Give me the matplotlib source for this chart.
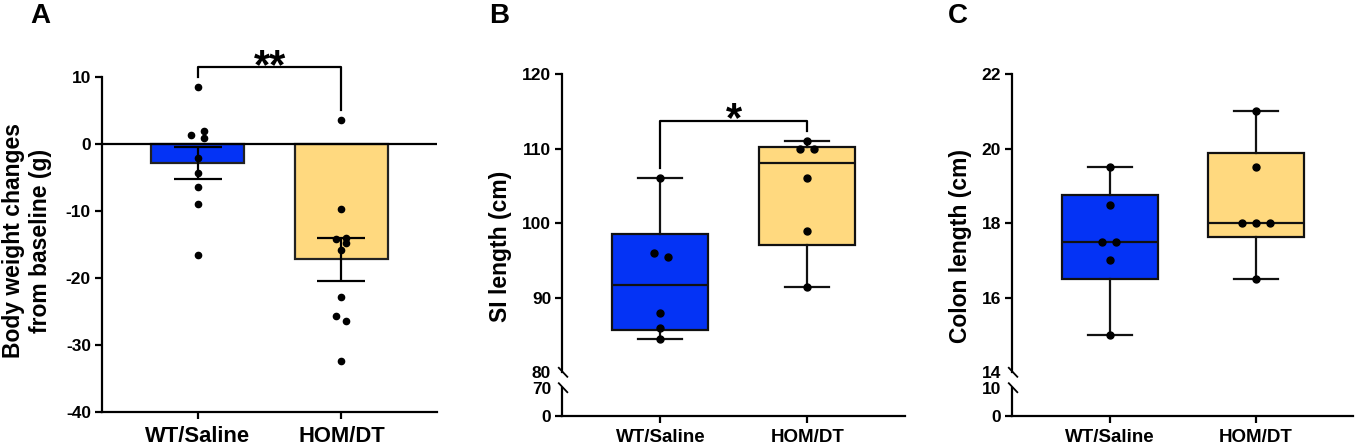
import numpy as np
import matplotlib
matplotlib.use("Agg")
import matplotlib.pyplot as plt
from matplotlib.lines import Line2D

plt.rcParams['font.family'] = ['Liberation Sans', 'DejaVu Sans']
plt.rcParams['font.weight'] = 'bold'
plt.rcParams['axes.unicode_minus'] = False

# ---------------- data ----------------
groups = ["WT/Saline", "HOM/DT"]
colors = ["#0433F5", "#FFD97F"]

# Panel A: body weight change (g)
bw_wt = [8.5, 2.0, 1.3, 0.9, -2.1, -4.4, -6.5, -8.9, -16.6]
bw_wt_off = [0, 0.046, -0.049, 0.046, 0, 0, 0, 0, 0]
bw_hom = [3.6, -9.7, -14.0, -14.2, -14.8, -15.9, -22.9, -25.7, -26.4, -32.5]
bw_hom_off = [0, 0, 0.035, -0.035, 0.035, 0, 0, -0.035, 0.035, 0]
bw_ticks = [-40, -30, -20, -10, 0, 10]

# Panel B: SI length (cm)
si_wt = [106.0, 96.0, 95.5, 88.0, 86.0, 84.5]
si_wt_off = [0, -0.043, 0.05, 0, 0, 0]
si_hom = [111.0, 110.0, 110.0, 106.0, 99.0, 91.5]
si_hom_off = [0, -0.048, 0.045, 0, 0, 0]
si_ticks = [80, 90, 100, 110, 120]

# Panel C: colon length (cm)
co_wt = [19.5, 18.5, 17.5, 17.5, 17.0, 15.0]
co_wt_off = [0, 0, -0.05, 0.045, 0, 0]
co_hom = [21.0, 19.5, 18.0, 18.0, 18.0, 16.5]
co_hom_off = [0, 0, -0.094, 0, 0.094, 0]
co_ticks = [14, 16, 18, 20, 22]

W, H = 1358, 447
fig = plt.figure(figsize=(W / 100, H / 100), dpi=100)

def fx(px):
    return px / W

def fy(py):
    return 1 - py / H

LW = 1.6
XLIM = (-0.667, 1.665)
TICK_FS = 12.5
LABEL_FS = 16.5
STAR_FS = 30


def set_yt(ax, ticks):
    ax.set_yticks(ticks)
    ax.set_yticklabels([str(t) for t in ticks], fontsize=TICK_FS, fontweight='bold')


def set_xt(ax, fs):
    ax.set_xticks([0, 1])
    ax.set_xticklabels(groups, fontsize=fs, fontweight='bold')


def style_axis(ax, xpad=3):
    for s in ax.spines.values():
        s.set_linewidth(LW)
    ax.tick_params(axis='both', width=LW, length=5, pad=3)
    ax.tick_params(axis='x', pad=xpad)


def dots(ax, x, vals, offs, ms=4.5):
    ax.plot(np.array(offs) + x, vals, 'o', color='black', ms=ms, zorder=5, clip_on=False)


# ---------------- Panel A ----------------
axA = fig.add_axes([fx(102), fy(411.7), fx(437 - 102), (411.7 - 77) / H])
xs = np.arange(len(groups))
means = [np.mean(bw_wt), np.mean(bw_hom)]
sems = [np.std(bw_wt, ddof=1) / np.sqrt(len(bw_wt)), np.std(bw_hom, ddof=1) / np.sqrt(len(bw_hom))]
axA.bar(xs, means, width=0.646, color=colors, edgecolor='#222222', linewidth=LW, zorder=2)
axA.errorbar(xs, means, yerr=sems, fmt='none', ecolor='black', elinewidth=LW,
             capsize=17.3, capthick=LW, zorder=4)
dots(axA, 0, bw_wt, bw_wt_off)
dots(axA, 1, bw_hom, bw_hom_off)
axA.axhline(0, color='black', lw=LW, zorder=3)
axA.set_xlim(*XLIM)
axA.set_ylim(-40, 10)
set_yt(axA, bw_ticks)
set_xt(axA, 15.8)
axA.spines['top'].set_visible(False)
axA.spines['right'].set_visible(False)
style_axis(axA, xpad=5)
# significance bracket
axA.plot([0, 0, 1, 1], [10, 11.5, 11.5, 5.1], color='black', lw=LW, clip_on=False)
axA.text(0.5, 9.9, "**", ha='center', va='baseline', fontsize=STAR_FS, fontweight='bold')
fig.text(fx(27), fy(241), "Body weight changes\nfrom baseline (g)", rotation=90,
         ha='center', va='center', fontsize=LABEL_FS, fontweight='bold', linespacing=1.25)
fig.text(fx(40), fy(16), "A", ha='center', va='center', fontsize=20, fontweight='bold')


# ---------------- broken-axis box panels ----------------
def box_stats(vals):
    v = np.array(vals)
    q1, med, q3 = np.percentile(v, [25, 50, 75], method='weibull')
    return dict(med=med, q1=q1, q3=q3, whislo=v.min(), whishi=v.max(), fliers=[])


def box_panel(left, right, data, offs, ticks, low_top, ylabel, label_x, letter, letter_x):
    top_py, brk_py, brk2_py, bot_py = 74, 372.3, 387.7, 415.7
    axT = fig.add_axes([fx(left), fy(brk_py), fx(right - left), (brk_py - top_py) / H])
    axB = fig.add_axes([fx(left), fy(bot_py), fx(right - left), (bot_py - brk2_py) / H])
    stats = [box_stats(d) for d in data]
    bp = axT.bxp(stats, positions=[0, 1], widths=0.655, patch_artist=True, showfliers=False,
                 capwidths=0.3,
                 boxprops=dict(linewidth=LW, edgecolor='#111111'),
                 medianprops=dict(color='#111111', linewidth=LW),
                 whiskerprops=dict(color='#111111', linewidth=LW),
                 capprops=dict(color='#111111', linewidth=LW))
    for patch, c in zip(bp['boxes'], colors):
        patch.set_facecolor(c)
    for i, (d, o) in enumerate(zip(data, offs)):
        dots(axT, i, d, o, ms=5)
    axT.set_xlim(*XLIM)
    axT.set_ylim(ticks[0], ticks[-1])
    set_yt(axT, ticks)
    for s in ['top', 'right', 'bottom']:
        axT.spines[s].set_visible(False)
    axT.set_xticks([])
    style_axis(axT)
    axT.yaxis.get_major_ticks()[0].tick1line.set_visible(False)

    axB.set_xlim(*XLIM)
    axB.set_ylim(0, low_top)
    set_yt(axB, [0, low_top])
    axB.spines['top'].set_visible(False)
    axB.spines['right'].set_visible(False)
    set_xt(axB, 13.5)
    style_axis(axB, xpad=4.5)
    axB.yaxis.get_major_ticks()[1].tick1line.set_visible(False)

    # break slashes
    for py in (brk_py, brk2_py):
        fig.add_artist(Line2D([fx(left - 3.5), fx(left + 5)], [fy(py - 4.5), fy(py + 4.5)],
                              transform=fig.transFigure, color='black', lw=1.3))
    fig.text(fx(label_x), fy(246), ylabel, rotation=90, ha='center', va='center',
             fontsize=LABEL_FS, fontweight='bold')
    fig.text(fx(letter_x), fy(16), letter, ha='center', va='center', fontsize=20, fontweight='bold')
    return axT, axB


axBT, axBB = box_panel(562.3, 905, [si_wt, si_hom], [si_wt_off, si_hom_off],
                       si_ticks, 70, "SI length (cm)", 501, "B", 499)
axBT.plot([0, 0, 1, 1], [107.4, 113.7, 113.7, 112.4], color='black', lw=LW, clip_on=False)
axBT.text(0.5, 112.3, "*", ha='center', va='baseline', fontsize=STAR_FS, fontweight='bold')

axCT, axCB = box_panel(1012.3, 1353, [co_wt, co_hom], [co_wt_off, co_hom_off],
                       co_ticks, 10, "Colon length (cm)", 961, "C", 958)

fig.savefig("out.png", dpi=100)
